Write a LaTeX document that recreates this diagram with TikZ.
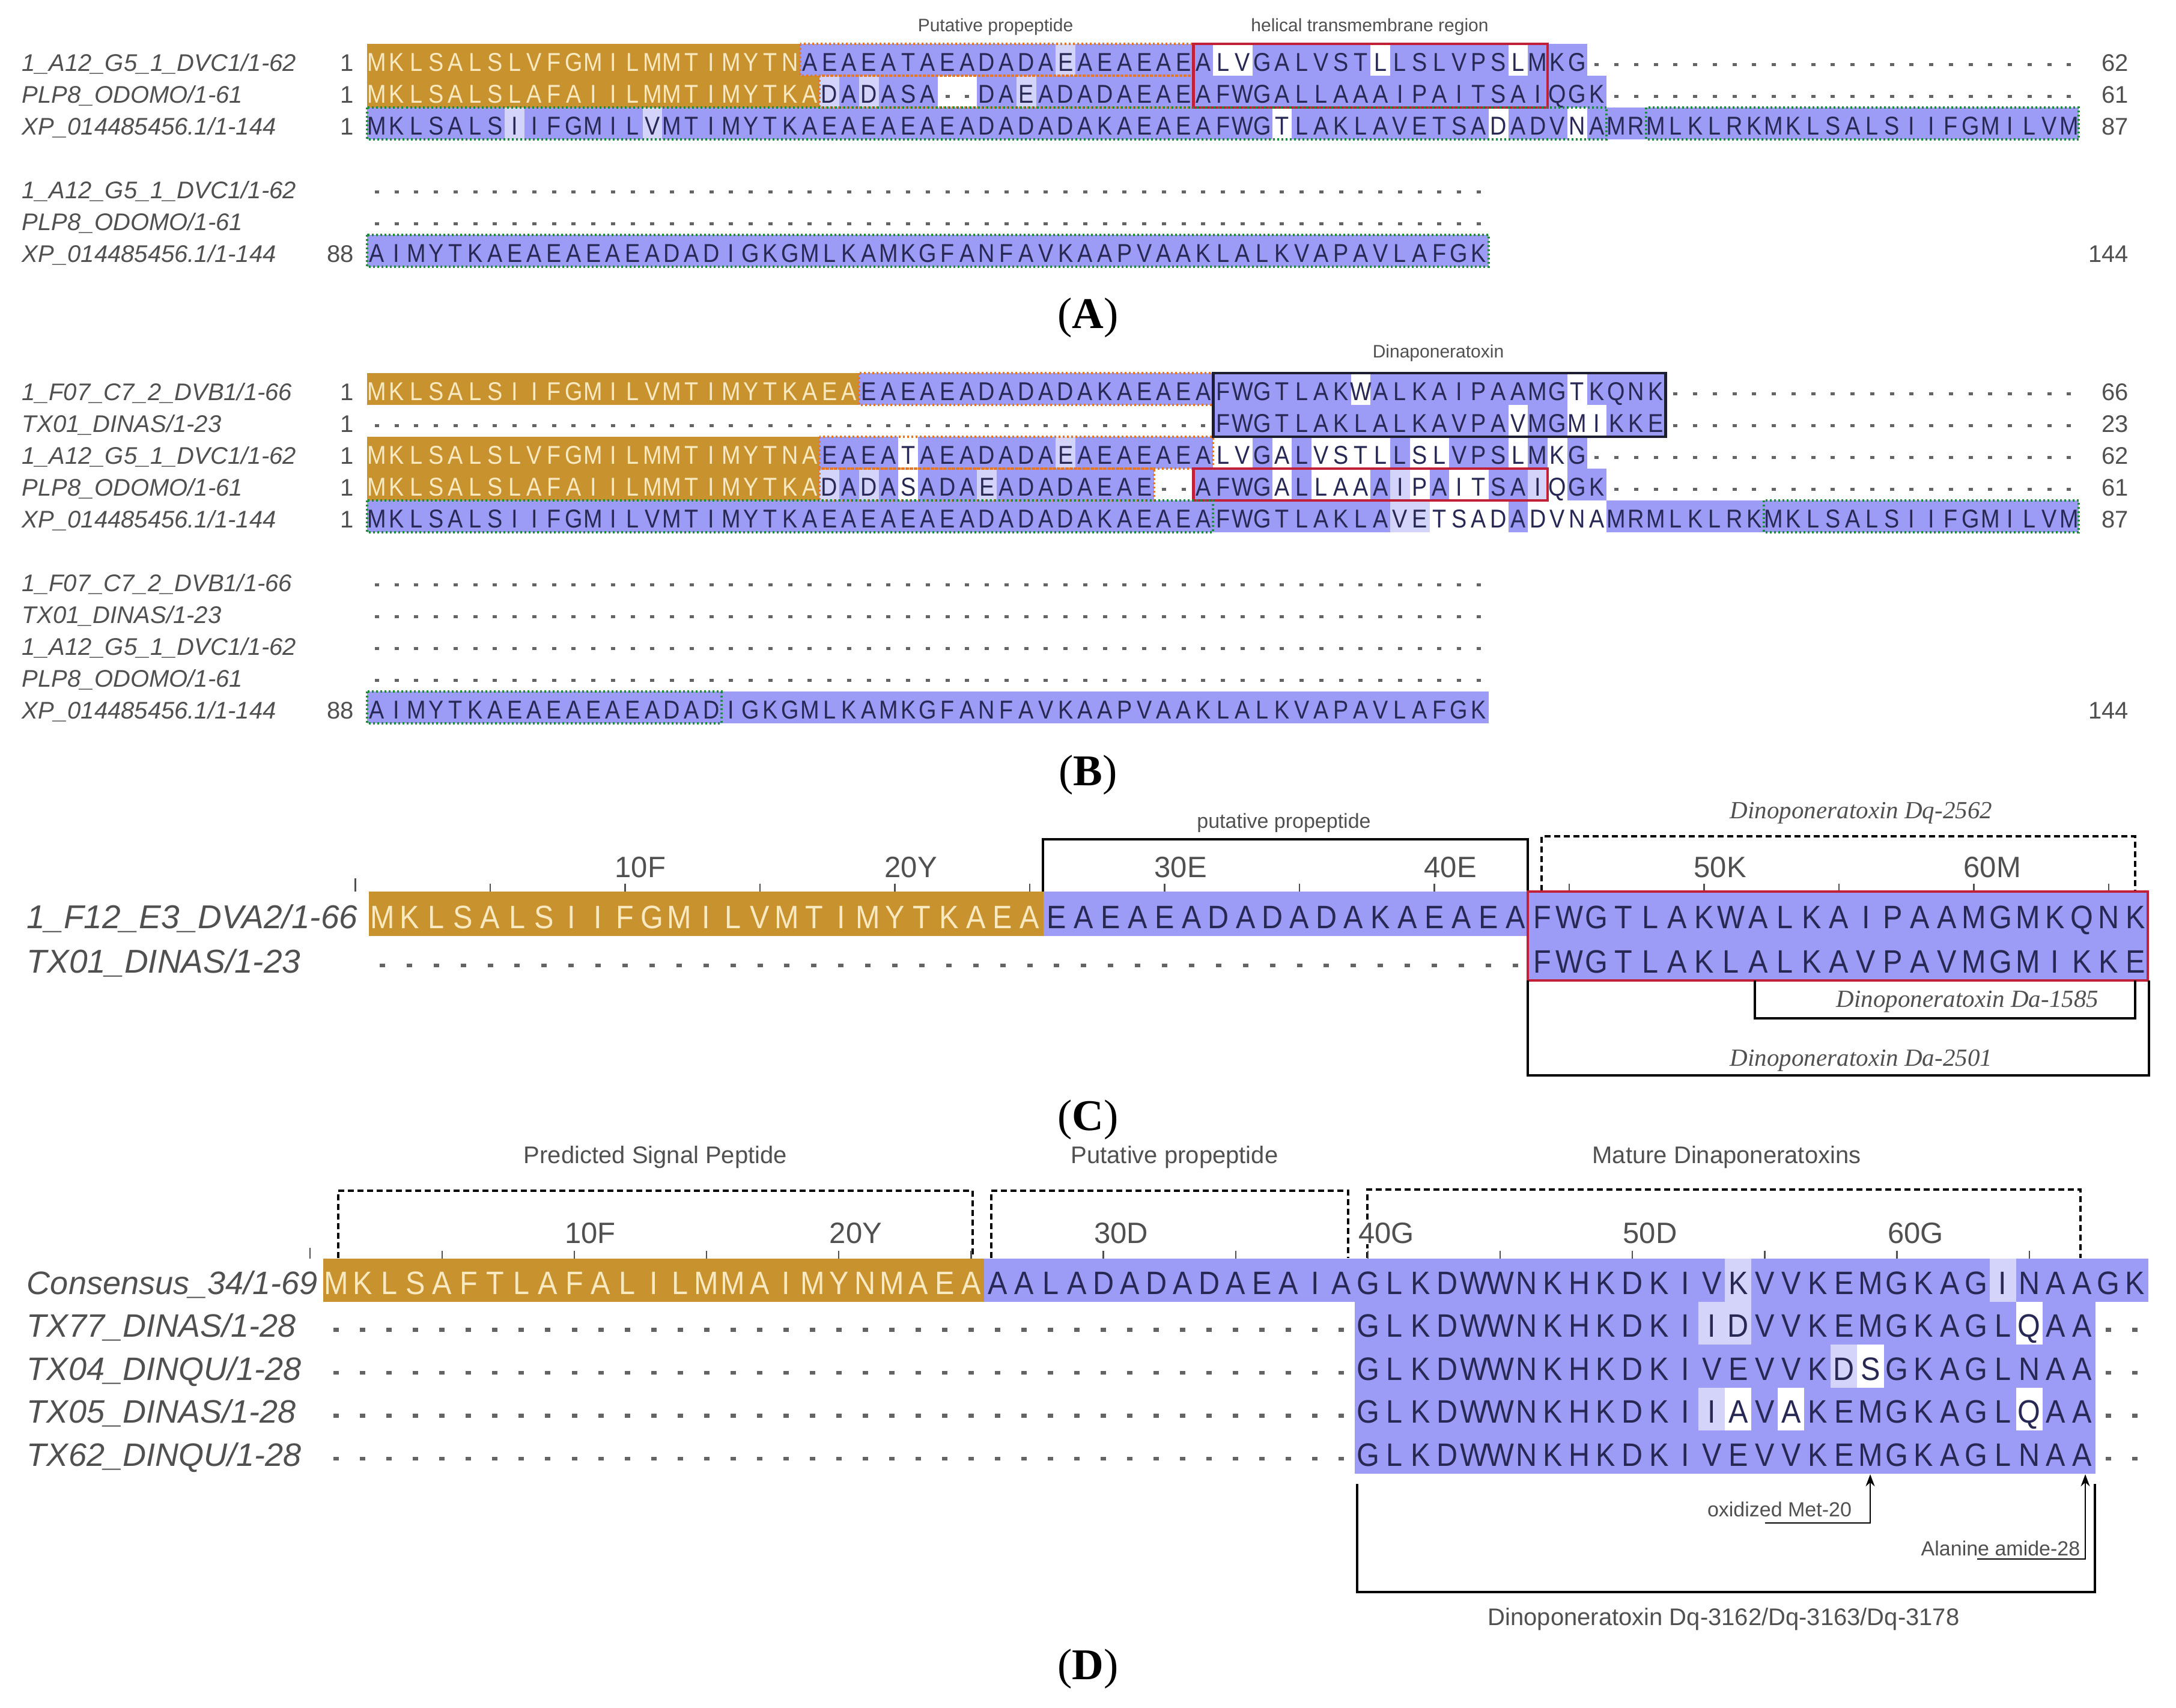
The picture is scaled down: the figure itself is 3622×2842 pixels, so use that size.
\documentclass[tikz,border=0pt]{standalone}
\usepackage{fontspec}
\usepackage{graphicx}
\setmainfont{Liberation Serif}
\newfontfamily\sansf{Liberation Sans}
\usetikzlibrary{arrows.meta}
\definecolor{orbg}{RGB}{200,146,46}
\definecolor{crm}{RGB}{248,233,192}
\definecolor{blbg}{RGB}{156,156,246}
\definecolor{ltbg}{RGB}{212,212,250}
\definecolor{nvy}{RGB}{40,40,85}
\definecolor{gtx}{RGB}{80,80,80}
\definecolor{redbx}{RGB}{192,32,56}
\definecolor{blkbx}{RGB}{30,30,50}
\definecolor{ordot}{RGB}{226,120,40}
\definecolor{grdot}{RGB}{30,140,60}
\definecolor{dotg}{RGB}{100,100,100}
\newcommand\fsz[1]{\fontsize{#1}{#1}\selectfont}
\newcount\sqcol
\def\sqdotchar{.}
\newcommand\seqdraw[6]{\def\sqx{#1}\def\sqw{#2}\global\sqcol=#3\relax\def\sqy{#4}\def\sqclr{#5}\sqloop#6\relax}
\def\sqloop#1{\ifx#1\relax\let\sqnext\relax\else\def\sqch{#1}\let\sqnext\sqdo\fi\sqnext}
\def\sqdo{%
  \pgfmathsetmacro\sqpos{\sqx+(\the\sqcol-0.5)*\sqw}%
  \ifx\sqch\sqdotchar
    \fill[dotg] (\sqpos-\sqdrx,\sqy-\sqdy-\sqdry) rectangle (\sqpos+\sqdrx,\sqy-\sqdy+\sqdry);
  \else
    \node[anchor=base,inner sep=0pt,text=\sqclr,font=\sqfont] at (\sqpos,\sqy) {\scalebox{\sqxs}[1]{\sqch}};
  \fi
  \global\advance\sqcol by 1\relax
  \sqloop}
\newcommand\gapdots[5]{\foreach \gc in {#3,...,#4}{\fill[dotg] ({#1+(\gc-0.5)*#2-\sqdrx},{#5-\sqdy-\sqdry}) rectangle ({#1+(\gc-0.5)*#2+\sqdrx},{#5-\sqdy+\sqdry});}}
\newcommand\bgc[7]{\fill[#7] ({#1+(#4-1)*#2},#6) rectangle ({#1+#5*#2},{#6+#3});}
\newcommand\bgA[4]{\bgc{611}{32.75}{53}{#1}{#2}{#3}{#4}}
\newcommand\bgC[4]{\bgc{614}{44.9}{74}{#1}{#2}{#3}{#4}}
\newcommand\bgD[4]{\bgc{537.7}{44.03}{71.5}{#1}{#2}{#3}{#4}}
\newcommand\sqA[4]{\seqdraw{611}{32.75}{#1}{#2}{#3}{#4}}
\newcommand\sqC[4]{\seqdraw{614}{44.9}{#1}{#2}{#3}{#4}}
\newcommand\sqD[4]{\seqdraw{537.7}{44.03}{#1}{#2}{#3}{#4}}
\newcommand\gdA[3]{\gapdots{611}{32.75}{#1}{#2}{#3}}
\newcommand\gdC[3]{\gapdots{614}{44.9}{#1}{#2}{#3}}
\newcommand\gdD[3]{\gapdots{537.7}{44.03}{#1}{#2}{#3}}
\begin{document}
\begin{tikzpicture}[x=0.2pt,y=-0.2pt,
  odot/.style={draw=ordot,line width=0.8pt,dash pattern=on 0.6pt off 0.8pt},
  gdot/.style={draw=grdot,line width=0.8pt,dash pattern=on 0.6pt off 0.8pt},
  redb/.style={draw=redbx,line width=0.9pt},
  blkb/.style={draw=blkbx,line width=0.9pt},
  brk/.style={draw=black,line width=0.9pt},
  dbrk/.style={draw=black,line width=0.9pt,dash pattern=on 2pt off 1.2pt},
  tk/.style={draw=gtx,line width=0.45pt},
  nmAB/.style={anchor=base west,inner sep=0pt,text=gtx,font=\sansf\itshape\fsz{8}},
  nmCD/.style={anchor=base west,inner sep=0pt,text=gtx,font=\sansf\itshape\fsz{10.8}},
  numl/.style={anchor=base east,inner sep=0pt,text=gtx,font=\sansf\fsz{8}},
  annA/.style={inner sep=0pt,text=gtx,font=\sansf\fsz{6}},
  annD/.style={inner sep=0pt,text=gtx,font=\sansf\fsz{8}},
  annS/.style={inner sep=0pt,text=gtx,font=\sansf\fsz{6.8}},
  annI/.style={inner sep=0pt,text=gtx,font=\itshape\fsz{8.2}},
  rulel/.style={anchor=base west,inner sep=0pt,text=gtx,font=\sansf\fsz{9.8}},
  capt/.style={inner sep=0pt,font=\fsz{14.6}},
  arr/.style={draw=black,line width=0.5pt,-{Stealth[length=4pt,width=3pt]}}
]
\fill[white] (0,0) rectangle (3622,2842);
\path[use as bounding box] (0,0) rectangle (3622,2842);
\def\sqfont{\sansf\fsz{8.6}}\def\sqxs{0.88}\def\sqdrx{3.5}\def\sqdry{2.6}\def\sqdy{11}
% ================= PANEL A =================
\node[annA] (aPro) at (1657,45) {Putative propeptide};
\node[annA] (aHel) at (2280,45) {helical transmembrane region};
% row 1
\bgA{1}{22}{73}{orbg}\bgA{23}{62}{73}{blbg}\bgA{36}{36}{73}{ltbg}
\bgA{44}{45}{73}{white}\bgA{52}{52}{73}{white}\bgA{59}{59}{73}{white}
\sqA{1}{118.5}{crm}{MKLSALSLVFGMILMMTIMYTN}
\sqA{23}{118.5}{nvy}{AEAEATAEADADAEAEAEAEALVGALVSTLLSLVPSLMKG}
\gdA{63}{87}{118.5}
% row 2
\bgA{1}{23}{126}{orbg}\bgA{24}{63}{126}{blbg}\bgA{24}{24}{126}{ltbg}\bgA{26}{26}{126}{ltbg}
\bgA{34}{34}{126}{ltbg}\bgA{30}{31}{126}{white}
\sqA{1}{171.5}{crm}{MKLSALSLAFAIILMMTIMYTKA}
\sqA{24}{171.5}{nvy}{DADASA..DAEADADAEAEAFWGALLAAAIPAITSAIQGK}
\gdA{64}{87}{171.5}
% row 3
\bgA{1}{87}{179}{blbg}\bgA{8}{8}{179}{ltbg}\bgA{15}{15}{179}{ltbg}
\bgA{47}{47}{179}{white}\bgA{58}{58}{179}{white}\bgA{62}{62}{179}{white}
\sqA{1}{224.5}{nvy}{MKLSALSIIFGMILVMTIMYTKAEAEAEAEADADADAKAEAEAFWGTLAKLAVETSADADVNAMRMLKLRKMKLSALSIIFGMILVM}
% rows 4-6
\gdA{1}{57}{330.5}
\gdA{1}{57}{383.5}
\bgA{1}{57}{391}{blbg}
\sqA{1}{436.5}{nvy}{AIMYTKAEAEAEAEADADIGKGMLKAMKGFANFAVKAAPVAAKLALKVAPAVLAFGK}
% names / numbers
\node[nmAB] (nA1) at (36,118.5) {1\_A12\_G5\_1\_DVC1/1-62};
\node[nmAB] (nA2) at (36,171.5) {PLP8\_ODOMO/1-61};
\node[nmAB] (nA3) at (36,224.5) {XP\_014485456.1/1-144};
\node[nmAB] (nA4) at (36,330.5) {1\_A12\_G5\_1\_DVC1/1-62};
\node[nmAB] (nA5) at (36,383.5) {PLP8\_ODOMO/1-61};
\node[nmAB] (nA6) at (36,436.5) {XP\_014485456.1/1-144};
\node[numl] (lA1) at (590,118.5) {1};
\node[numl] (lA2) at (590,171.5) {1};
\node[numl] (lA3) at (590,224.5) {1};
\node[numl] (lA6) at (590,436.5) {88};
\node[numl] (rA1) at (3544,118.5) {62};
\node[numl] (rA2) at (3544,171.5) {61};
\node[numl] (rA3) at (3544,224.5) {87};
\node[numl] (rA6) at (3544,436.5) {144};
% boxes
\draw[odot] (1331.5,73) rectangle (1986.5,126);
\draw[odot] (1364.25,126) rectangle (1986.5,179);
\draw[redb] (1986.5,73) rectangle (2576,179);
\draw[gdot] (611,179) rectangle (2674.25,232);
\draw[gdot] (2739.75,179) rectangle (3460.25,232);
\draw[gdot] (611,391) rectangle (2477.75,444);
\node[capt] (capA) at (1811,529) {(\textbf{A})};
% ================= PANEL B =================
\node[annA] (bDin) at (2394,588) {Dinaponeratoxin};
% row 1
\bgA{1}{25}{621}{orbg}\bgA{26}{66}{621}{blbg}\bgA{51}{51}{621}{white}\bgA{62}{62}{621}{white}
\sqA{1}{666.5}{crm}{MKLSALSIIFGMILVMTIMYTKAEA}
\sqA{26}{666.5}{nvy}{EAEAEADADADAKAEAEAFWGTLAKWALKAIPAAMGTKQNK}
\gdA{67}{87}{666.5}
% row 2
\bgA{44}{66}{674}{blbg}\bgA{59}{59}{674}{white}\bgA{62}{63}{674}{white}
\gdA{1}{43}{719.5}
\sqA{44}{719.5}{nvy}{FWGTLAKLALKAVPAVMGMIKKE}
\gdA{67}{87}{719.5}
% row 3
\bgA{1}{23}{727}{orbg}\bgA{24}{62}{727}{blbg}\bgA{36}{36}{727}{ltbg}
\foreach \a/\b in {28/28,44/45,47/47,49/52,54/55,59/59,61/61}{\bgA{\a}{\b}{727}{white}}
\sqA{1}{772.5}{crm}{MKLSALSLVFGMILMMTIMYTNA}
\sqA{24}{772.5}{nvy}{EAEATAEADADAEAEAEAEALVGALVSTLLSLVPSLMKG}
\gdA{63}{87}{772.5}
% row 4
\bgA{1}{23}{780}{orbg}\bgA{24}{63}{780}{blbg}
\foreach \a in {24,26,32,53,60}{\bgA{\a}{\a}{780}{ltbg}}
\foreach \a/\b in {28/28,41/42,47/47,49/51,54/54,56/57,61/61}{\bgA{\a}{\b}{780}{white}}
\sqA{1}{825.5}{crm}{MKLSALSLAFAIILMMTIMYTKA}
\sqA{24}{825.5}{nvy}{DADASADAEADADAEAE..AFWGALLAAAIPAITSAIQGK}
\gdA{64}{87}{825.5}
% row 5
\bgA{1}{87}{833}{blbg}\bgA{53}{54}{833}{ltbg}\bgA{55}{58}{833}{white}\bgA{60}{63}{833}{white}
\sqA{1}{878.5}{nvy}{MKLSALSIIFGMILVMTIMYTKAEAEAEAEADADADAKAEAEAFWGTLAKLAVETSADADVNAMRMLKLRKMKLSALSIIFGMILVM}
% rows 6-10
\gdA{1}{57}{984.5}
\gdA{1}{57}{1037.5}
\gdA{1}{57}{1090.5}
\gdA{1}{57}{1143.5}
\bgA{1}{57}{1151}{blbg}
\sqA{1}{1196.5}{nvy}{AIMYTKAEAEAEAEADADIGKGMLKAMKGFANFAVKAAPVAAKLALKVAPAVLAFGK}
% names / numbers
\node[nmAB] (nB1) at (36,666.5) {1\_F07\_C7\_2\_DVB1/1-66};
\node[nmAB] (nB2) at (36,719.5) {TX01\_DINAS/1-23};
\node[nmAB] (nB3) at (36,772.5) {1\_A12\_G5\_1\_DVC1/1-62};
\node[nmAB] (nB4) at (36,825.5) {PLP8\_ODOMO/1-61};
\node[nmAB] (nB5) at (36,878.5) {XP\_014485456.1/1-144};
\node[nmAB] (nB6) at (36,984.5) {1\_F07\_C7\_2\_DVB1/1-66};
\node[nmAB] (nB7) at (36,1037.5) {TX01\_DINAS/1-23};
\node[nmAB] (nB8) at (36,1090.5) {1\_A12\_G5\_1\_DVC1/1-62};
\node[nmAB] (nB9) at (36,1143.5) {PLP8\_ODOMO/1-61};
\node[nmAB] (nB10) at (36,1196.5) {XP\_014485456.1/1-144};
\node[numl] (lB1) at (590,666.5) {1};
\node[numl] (lB2) at (590,719.5) {1};
\node[numl] (lB3) at (590,772.5) {1};
\node[numl] (lB4) at (590,825.5) {1};
\node[numl] (lB5) at (590,878.5) {1};
\node[numl] (lB10) at (590,1196.5) {88};
\node[numl] (rB1) at (3544,666.5) {66};
\node[numl] (rB2) at (3544,719.5) {23};
\node[numl] (rB3) at (3544,772.5) {62};
\node[numl] (rB4) at (3544,825.5) {61};
\node[numl] (rB5) at (3544,878.5) {87};
\node[numl] (rB10) at (3544,1196.5) {144};
% boxes
\draw[odot] (1429.75,621) rectangle (2019.25,674);
\draw[blkb] (2019.25,621) rectangle (2772.5,727);
\draw[odot] (1364.25,727) rectangle (2019.25,780);
\draw[odot] (1364.25,780) rectangle (1921,833);
\draw[redb] (1986.5,780) rectangle (2576,833);
\draw[gdot] (611,833) rectangle (2019.25,886);
\draw[gdot] (2936.25,833) rectangle (3460.25,886);
\draw[gdot] (611,1151) rectangle (1200.5,1204);
\node[capt] (capB) at (1811,1290) {(\textbf{B})};
% ================= PANEL C =================
\def\sqfont{\sansf\fsz{10.8}}\def\sqxs{0.9}\def\sqdrx{4.5}\def\sqdry{3.2}\def\sqdy{12}
\node[annS] (cPro) at (2137,1370) {putative propeptide};
\node[annI] (cDq) at (3098,1353) {Dinoponeratoxin Dq-2562};
\draw[brk] (1736,1487) -- (1736,1397) -- (2543,1397) -- (2543,1484);
\draw[dbrk] (2566,1483) -- (2566,1392) -- (3554,1392) -- (3554,1483);
\draw[tk] ({614-0.5*44.9},1462) -- ({614-0.5*44.9},1484);
\foreach \n in {5,10,...,65}{\draw[tk] ({614+(\n-0.5)*44.9},1471) -- ({614+(\n-0.5)*44.9},1484);}
\foreach \n/\l in {10/10F,20/20Y,30/30E,40/40E,50/50K,60/60M}{\node[rulel] at ({614+(\n-0.5)*44.9-18},1460) {\l};}
\bgC{1}{25}{1484}{orbg}\bgC{26}{66}{1484}{blbg}\bgC{44}{66}{1558}{blbg}
\sqC{1}{1545}{crm}{MKLSALSIIFGMILVMTIMYTKAEA}
\sqC{26}{1545}{nvy}{EAEAEADADADAKAEAEAFWGTLAKWALKAIPAAMGMKQNK}
\gdC{1}{43}{1619}
\sqC{44}{1619}{nvy}{FWGTLAKLALKAVPAVMGMIKKE}
\node[nmCD,font=\sansf\itshape\fsz{11}] (nC1) at (44,1545) {1\_F12\_E3\_DVA2/1-66};
\node[nmCD,font=\sansf\itshape\fsz{11}] (nC2) at (44,1619) {TX01\_DINAS/1-23};
\draw[redb] (2543,1484) rectangle (3575,1632);
\draw[brk] (2921,1632) -- (2921,1695) -- (3554,1695) -- (3554,1632);
\draw[brk] (2543,1632) -- (2543,1790) -- (3577,1790) -- (3577,1632);
\node[annI] (cDa1) at (3275,1667) {Dinoponeratoxin Da-1585};
\node[annI] (cDa2) at (3098,1765) {Dinoponeratoxin Da-2501};
\node[capt] (capC) at (1811,1864) {(\textbf{C})};
% ================= PANEL D =================
\node[annD] (dSig) at (1091,1926) {Predicted Signal Peptide};
\node[annD] (dPro) at (1955,1926) {Putative propeptide};
\node[annD] (dMat) at (2874,1926) {Mature Dinaponeratoxins};
\draw[dbrk] (563,2094) -- (563,1982) -- (1619,1982) -- (1619,2094);
\draw[dbrk] (1650,2094) -- (1650,1982) -- (2244,1982) -- (2244,2094);
\draw[dbrk] (2276,2094) -- (2276,1980) -- (3463,1980) -- (3463,2094);
\draw[tk] ({537.7-0.5*44.03},2077) -- ({537.7-0.5*44.03},2095);
\foreach \n in {5,10,...,65}{\draw[tk] ({537.7+(\n-0.5)*44.03},2082) -- ({537.7+(\n-0.5)*44.03},2095);}
\foreach \n/\l in {10/10F,20/20Y,30/30D,40/40G,50/50D,60/60G}{\node[rulel,fill=white,inner sep=0.3pt] at ({537.7+(\n-0.5)*44.03-18},2069) {\l};}
% consensus
\bgD{1}{25}{2095}{orbg}\bgD{26}{69}{2095}{blbg}\bgD{54}{54}{2095}{ltbg}\bgD{64}{64}{2095}{ltbg}
\sqD{1}{2154}{crm}{MKLSAFTLAFALILMMAIMYNMAEA}
\sqD{26}{2154}{nvy}{AALADADADAEAIAGLKDWWNKHKDKIVKVVKEMGKAGINAAGK}
% TX77
\bgD{40}{67}{2166.5}{blbg}\bgD{53}{54}{2166.5}{ltbg}\bgD{65}{65}{2166.5}{white}
\gdD{1}{39}{2225.5}\gdD{68}{69}{2225.5}
\sqD{40}{2225.5}{nvy}{GLKDWWNKHKDKIIDVVKEMGKAGLQAA}
% TX04
\bgD{40}{67}{2238}{blbg}\bgD{58}{58}{2238}{ltbg}\bgD{59}{59}{2238}{white}
\gdD{1}{39}{2297}\gdD{68}{69}{2297}
\sqD{40}{2297}{nvy}{GLKDWWNKHKDKIVEVVKDSGKAGLNAA}
% TX05
\bgD{40}{67}{2309.5}{blbg}\bgD{53}{53}{2309.5}{ltbg}\bgD{54}{54}{2309.5}{white}\bgD{56}{56}{2309.5}{white}\bgD{65}{65}{2309.5}{white}
\gdD{1}{39}{2368.5}\gdD{68}{69}{2368.5}
\sqD{40}{2368.5}{nvy}{GLKDWWNKHKDKIIAVAKEMGKAGLQAA}
% TX62
\bgD{40}{67}{2381}{blbg}
\gdD{1}{39}{2440}\gdD{68}{69}{2440}
\sqD{40}{2440}{nvy}{GLKDWWNKHKDKIVEVVKEMGKAGLNAA}
\node[nmCD] (nD1) at (44,2154) {Consensus\_34/1-69};
\node[nmCD] (nD2) at (44,2225.5) {TX77\_DINAS/1-28};
\node[nmCD] (nD3) at (44,2297) {TX04\_DINQU/1-28};
\node[nmCD] (nD4) at (44,2368.5) {TX05\_DINAS/1-28};
\node[nmCD] (nD5) at (44,2440) {TX62\_DINQU/1-28};
% annotations below
\coordinate (met) at (3113,2454);
\coordinate (ala) at (3471,2454);
\node[annS] (oxm) at (2962,2512) {oxidized Met-20};
\node[annS] (alam) at (3330,2577) {Alanine amide-28};
\draw[arr] (2938,2535) -- (3113,2535) -- (met);
\draw[arr] (3291,2595) -- (3471,2595) -- (ala);
\draw[brk] (2259,2470) -- (2259,2650) -- (3487,2650) -- (3487,2470);
\node[annD] (dTox) at (2869,2695) {Dinoponeratoxin Dq-3162/Dq-3163/Dq-3178};
\node[capt] (capD) at (1811,2778) {(\textbf{D})};
\end{tikzpicture}
\end{document}
